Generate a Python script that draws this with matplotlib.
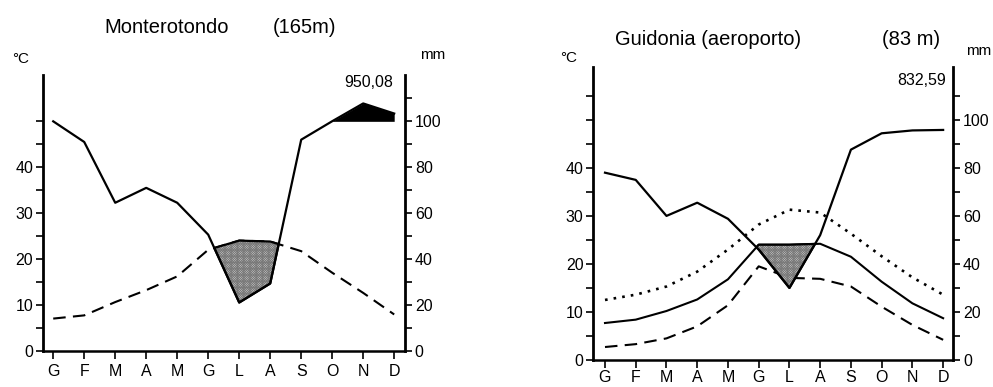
import numpy as np
import matplotlib.pyplot as plt

plt.rcParams['font.family'] = ['Liberation Sans', 'DejaVu Sans']
plt.rcParams['hatch.linewidth'] = 0.6

mesi = ['G', 'F', 'M', 'A', 'M', 'G', 'L', 'A', 'S', 'O', 'N', 'D']

# Monterotondo (165 m): temperatura media (°C), precipitazioni (mm)
mont_temp = [7.0, 7.7, 10.6, 13.2, 16.2, 22.0, 24.0, 23.8, 21.7, 17.0, 12.6, 7.9]
mont_prec = [100.0, 91.0, 64.5, 71.0, 64.5, 50.6, 21.0, 29.3, 92.0, 100.5, 178.0, 134.0]
mont_totale = '950,08'

# Guidonia (aeroporto) (83 m): media, massima, minima (°C), precipitazioni (mm)
guid_temp = [7.7, 8.4, 10.2, 12.6, 16.8, 24.0, 24.0, 24.2, 21.5, 16.3, 11.8, 8.7]
guid_tmax = [12.5, 13.6, 15.3, 18.4, 23.0, 28.2, 31.3, 30.7, 26.3, 21.6, 17.2, 13.6]
guid_tmin = [2.7, 3.3, 4.5, 7.0, 11.4, 19.5, 17.1, 16.9, 15.3, 11.1, 7.3, 4.2]
guid_prec = [78.0, 75.0, 60.0, 65.5, 58.8, 46.0, 30.0, 52.0, 87.6, 94.4, 95.6, 95.8]
guid_totale = '832,59'


def prec_scala(p):
    # 10 °C = 20 mm, oltre i 100 mm scala ridotta a 1/10
    p = np.asarray(p, float)
    return np.where(p <= 100, p / 2, 50 + (p - 100) / 20)


def diagramma(ax, temp, prec, ytop, xlim, ymax_sx, pad_x):
    x = np.arange(12)
    pd_ = prec_scala(prec)
    xf = np.linspace(0, 11, 2201)
    tf = np.interp(xf, x, temp)
    pf = np.interp(xf, x, pd_)

    # periodo arido (temperatura sopra precipitazioni)
    secco = tf > pf
    ax.fill_between(xf, pf, tf, where=secco, interpolate=True,
                    facecolor='#d2d2d2', edgecolor='#7a7a7a', hatch='x' * 14,
                    linewidth=0, zorder=3)
    ax.fill_between(xf, pf, tf, where=secco, interpolate=True,
                    facecolor='none', edgecolor='black', linewidth=1.6, zorder=4)
    # periodo perumido (oltre 100 mm)
    ax.fill_between(xf, 50, pf, where=pf > 50, interpolate=True,
                    color='black', linewidth=0, zorder=3)
    ax.plot(x, pd_, color='black', lw=1.6, zorder=5)

    ax.set_xlim(*xlim)
    ax.set_ylim(0, ytop)
    ax.set_xticks(x)
    ax.set_xticklabels(mesi)
    yt = np.arange(0, ymax_sx + 1, 5)
    ax.set_yticks(yt)
    ax.set_yticklabels([str(int(v)) if v % 10 == 0 and v <= 40 else '' for v in yt])
    ax.tick_params(axis='x', direction='out', length=5.5, width=1.2, labelsize=11.5, pad=pad_x)
    ax.tick_params(axis='y', direction='out', length=5, width=1.2, labelsize=11.5, pad=2)
    for s in ['top', 'right']:
        ax.spines[s].set_visible(False)
    ax.spines['left'].set_linewidth(2.0)
    ax.spines['bottom'].set_linewidth(1.8)

    ax2 = ax.twinx()
    ax2.set_ylim(0, ytop)
    yt2 = np.arange(0, 56, 5)
    ax2.set_yticks(yt2)
    ax2.set_yticklabels([str(int(v * 2)) if v % 10 == 0 else '' for v in yt2])
    ax2.tick_params(axis='y', direction='out', length=5, width=1.2, labelsize=11.5, pad=2)
    for s in ['top', 'left', 'bottom']:
        ax2.spines[s].set_visible(False)
    ax2.spines['right'].set_linewidth(2.0)
    return ax2


fig = plt.figure(figsize=(9.93, 3.87), dpi=100)

# Monterotondo
ax1 = fig.add_axes([0.0433, 0.0938, 0.3646, 0.7124])
ax1.plot(range(12), mont_temp, color='black', lw=1.5, dashes=(6, 3.5), zorder=2)
diagramma(ax1, mont_temp, mont_prec, 60.1, (-0.33, 11.35), 50, 4)

# Guidonia
ax3 = fig.add_axes([0.5975, 0.0698, 0.3625, 0.757])
ax3.plot(range(12), guid_tmax, color='black', lw=1.9, dashes=(1, 2.3), zorder=2)
ax3.plot(range(12), guid_temp, color='black', lw=1.5, zorder=2)
ax3.plot(range(12), guid_tmin, color='black', lw=1.5, dashes=(6, 3.5), zorder=2)
diagramma(ax3, guid_temp, guid_prec, 61.0, (-0.38, 11.33), 55, 1.5)

# testi
fig.text(167 / 993, 1 - 33 / 387, 'Monterotondo', ha='center', va='baseline', fontsize=14.5)
fig.text(305 / 993, 1 - 33 / 387, '(165m)', ha='center', va='baseline', fontsize=14.5)
fig.text(708 / 993, 1 - 45 / 387, 'Guidonia (aeroporto)', ha='center', va='baseline', fontsize=14.5)
fig.text(911 / 993, 1 - 45 / 387, '(83 m)', ha='center', va='baseline', fontsize=14.5)
fig.text(21 / 993, 1 - 63 / 387, '°C', ha='center', va='baseline', fontsize=11)
fig.text(569 / 993, 1 - 61.5 / 387, '°C', ha='center', va='baseline', fontsize=11)
fig.text(433 / 993, 1 - 59 / 387, 'mm', ha='center', va='baseline', fontsize=11)
fig.text(979 / 993, 1 - 55 / 387, 'mm', ha='center', va='baseline', fontsize=11)
fig.text(393 / 993, 1 - 87 / 387, mont_totale, ha='right', va='baseline', fontsize=11.5)
fig.text(946 / 993, 1 - 85 / 387, guid_totale, ha='right', va='baseline', fontsize=11.5)

fig.savefig('out.png', dpi=100)
